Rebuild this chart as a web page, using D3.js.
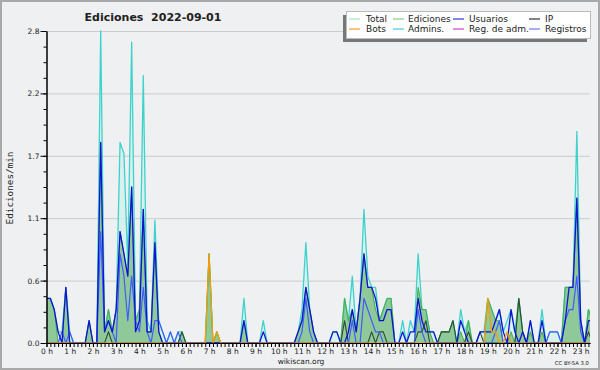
<!DOCTYPE html>
<html><head><meta charset="utf-8">
<script src="https://cdn.jsdelivr.net/npm/d3@7"></script>
<style>
body{margin:0;background:#eef0f1}
svg{display:block}
text{font-family:"DejaVu Sans",sans-serif;fill:#222}
</style>
</head><body>
<svg id="c" width="600" height="370"></svg>
<script>
// 10-minute bins from 0 h, edits per minute
const total = [
 .4,.4,.3,.1,.1,.5,  .1,0,0,0,0,.2,  0,0,2.8,.1,.3,.1,  .3,1.8,1.7,.7,2.7,.2,
 .3,2.4,.2,.1,1.1,.2,  .1,0,.1,0,.1,.1,  0,0,0,0,0,0,  .8,0,.1,0,0,0,
 0,0,0,.4,0,0,  0,0,.2,0,0,0,  0,0,0,0,0,.1,  .3,.9,.3,.1,0,0,
 0,0,.1,.1,0,.4,  .2,.6,.1,.4,1.2,.6,  .5,.5,.2,.3,.4,.4,  0,0,.2,0,.2,.1,
 .8,.3,.3,.1,.1,0,  .1,.1,.1,.2,0,.3,  .1,.2,0,0,.1,.1,  .4,.3,.2,.3,.1,.2,
 .3,.1,.4,.1,0,.2,  0,0,.3,0,.1,.1,  .1,0,.5,.5,.5,1.9,  .2,0,.3,.2
];
const edits = [
 .4,.4,.3,0,0,.5,  0,0,0,0,0,.2,  0,0,1.8,.1,.3,.1,  .3,1.0,.8,.6,1.4,.2,
 .3,1.2,.1,.1,.9,.1,  0,0,0,0,0,.1,  0,0,0,0,0,0,  .8,0,.1,0,0,0,
 0,0,0,.2,0,0,  0,0,0,0,0,0,  0,0,0,0,0,.1,  .2,.5,.3,.1,0,0,
 0,0,0,0,0,.4,  .2,.3,.1,.4,.8,.5,  .5,.3,.2,.3,.4,.4,  0,0,0,0,0,0,
 .5,.3,.3,.1,0,0,  .1,.1,.1,.2,0,.1,  0,.2,0,0,0,0,  .4,.3,.2,.2,0,0,
 .1,0,.4,.1,0,.1,  0,0,.1,0,0,0,  0,0,.5,.5,.5,1.3,  .2,0,.3,.2
];
const users = [
 .4,.4,.3,.1,0,.5,  0,0,0,0,0,.2,  0,0,1.8,.1,.2,.1,  .3,1.0,.8,.6,1.4,.1,
 .2,1.2,.1,.1,.9,.1,  0,0,0,0,0,0,  0,0,0,0,0,0,  0,0,0,0,0,0,
 0,0,0,.2,0,0,  0,0,.1,0,0,0,  0,0,0,0,0,.1,  .2,.5,.3,.1,0,0,
 0,0,.1,.1,0,0,  .1,.3,.1,.4,.8,.5,  .5,.4,.2,.2,.3,.3,  0,0,.1,0,.1,.1,
 .4,.2,.1,.1,.1,0,  0,0,0,0,0,.2,  .1,0,0,0,.1,.1,  .1,.1,.2,.3,.1,0,
 .3,.1,0,.1,0,.2,  0,0,.2,0,0,0,  0,0,.2,.5,.5,1.3,  .2,0,.2,.2
];
const logs = [
 0,0,0,0,.1,0,  .1,0,0,0,0,0,  0,0,1.0,.1,.2,.1,  0,.8,.6,.2,.6,.2,
 .1,.5,.1,0,.2,.2,  .1,0,.1,0,.1,0,  0,0,0,0,0,0,  0,0,0,0,0,0,
 0,0,0,0,0,0,  0,0,0,0,0,0,  0,0,0,0,0,0,  .1,.4,.1,0,0,0,
 0,0,0,0,0,0,  0,.2,0,0,.4,.3,  .2,.1,.1,0,0,0,  0,0,0,0,0,0,
 .3,.1,0,0,0,0,  0,0,0,0,0,0,  0,0,0,0,0,0,  0,0,.1,.2,0,0,
 0,0,0,0,0,0,  0,0,0,0,.1,.1,  .1,0,.2,.3,.3,.6,  .1,0,0,0
];
const ip = [
 0,0,0,0,0,0,  0,0,0,0,0,0,  0,0,0,0,.1,0,  0,0,0,0,0,0,
 0,0,0,0,0,0,  0,0,0,0,0,.1,  0,0,0,0,0,0,  0,0,0,0,0,0,
 0,0,0,0,0,0,  0,0,0,0,0,0,  0,0,0,0,0,0,  0,0,0,0,0,0,
 0,0,0,0,0,.2,  0,0,0,0,0,0,  .1,0,.1,.1,0,0,  0,0,0,0,0,0,
 .1,.1,.2,0,0,0,  .1,.1,.1,.2,0,0,  0,.1,0,0,.1,0,  0,0,0,0,0,0,
 0,0,.4,.1,0,0,  0,0,0,0,0,0,  0,0,0,0,0,0,  0,0,.1,0
];
const bots = [
 0,0,0,0,0,0,  0,0,0,0,0,0,  0,0,0,0,0,0,  0,0,0,0,0,0,
 0,0,0,0,0,0,  0,0,0,0,0,0,  0,0,0,0,0,0,  .8,0,.1,0,0,0,
 0,0,0,0,0,0,  0,0,0,0,0,0,  0,0,0,0,0,0,  0,0,0,0,0,0,
 0,0,0,0,0,0,  0,0,0,0,0,0,  0,0,0,0,0,0,  0,0,0,0,0,0,
 0,0,0,0,0,0,  0,0,0,0,0,0,  0,0,0,0,0,0,  .4,.1,.1,0,0,.1,
 0,0,0,0,0,0,  0,0,0,0,0,0,  0,0,0,0,0,0,  0,0,0,0
];
const hourTicks = d3.range(24);
const yTicks = [0, 0.56, 1.12, 1.68, 2.24, 2.8];
const yTickLabels = ["0.0", "0.6", "1.1", "1.7", "2.2", "2.8"];
const legendLabels = ["Total", "Ediciones", "Usuarios", "IP", "Bots", "Admins.", "Reg. de adm.", "Registros"];
const legendColors = ["#aadddd", "#88cc88", "#3333dd", "#333333", "#ff9933", "#44ccdd", "#cc44cc", "#7777ee"];

const svg = d3.select("#c");
svg.append("rect").attr("x", 1).attr("y", 1).attr("width", 598).attr("height", 368)
  .attr("fill", "#eef0f1").attr("stroke", "#a9a9a9").attr("stroke-width", 2);

const L = 46.5, R = 590, T = 31, B = 343;
const x = d3.scaleLinear().domain([0, 23.4]).range([L, R]);
const y = d3.scaleLinear().domain([0, 2.8]).range([B, T]);
const px = (d, i) => x(i / 6);

svg.append("clipPath").attr("id", "clip").append("rect")
  .attr("x", L).attr("y", T - 5).attr("width", R - L).attr("height", B - T + 5);

// grid
svg.append("g").selectAll("line").data(yTicks.slice(1)).join("line")
  .attr("x1", L).attr("x2", R).attr("y1", d => y(d) + 0.5).attr("y2", d => y(d) + 0.5)
  .attr("stroke", "#cccccc").attr("stroke-width", 1);

const area = d3.area().x(px).y0(y(0)).y1(d => y(d));
const line = d3.line().x(px).y(d => y(d));
const plot = svg.append("g").attr("clip-path", "url(#clip)");

plot.append("path").datum(total).attr("d", area).attr("fill", "#d6f0ee").attr("opacity", 0.85);
plot.append("path").datum(edits).attr("d", area).attr("fill", "#7fbf86").attr("opacity", 0.82);

const series = [
  [total, "#3ed2cc", 1.3],
  [edits, "#4cb04c", 1.1],
  [ip, "#2f4a35", 1.1],
  [logs, "#3f5cff", 1.2],
  [users, "#1212d6", 1.3],
  [bots, "#ff9a00", 1.2]
];
series.forEach(([d, c, w]) => {
  plot.append("path").datum(d).attr("d", line).attr("fill", "none")
    .attr("stroke", c).attr("stroke-width", w).attr("stroke-linejoin", "round");
});

// y axis
svg.append("g").attr("transform", `translate(${L},0)`)
  .call(d3.axisLeft(y).tickValues(yTicks).tickFormat((d, i) => yTickLabels[i]).tickSize(6).tickSizeOuter(0).tickPadding(1));
svg.append("g").attr("transform", `translate(${L},0)`)
  .call(d3.axisLeft(y).tickValues(d3.range(0, 2.8001, 0.14)).tickFormat("").tickSize(3).tickSizeOuter(0));
// x axis
svg.append("g").attr("transform", `translate(0,${B})`)
  .call(d3.axisBottom(x).tickValues(d3.range(0, 141).map(i => i / 6)).tickFormat("").tickSize(4).tickSizeOuter(0));
svg.append("g").attr("transform", `translate(0,${B})`)
  .call(d3.axisBottom(x).tickValues(hourTicks).tickFormat(h => `${h} h`).tickSize(4).tickSizeOuter(0).tickPadding(2));
svg.selectAll(".tick text").attr("font-size", "7.5px").attr("font-family", "DejaVu Sans").attr("fill", "#222");
svg.selectAll(".domain, .tick line").attr("stroke", "#000");

// y label
svg.append("text").attr("transform", "translate(13,188) rotate(-90)").attr("text-anchor", "middle")
  .style("font-family", "DejaVu Sans Mono").attr("font-size", "9.3px").text("Ediciones/min");

// title
svg.append("text").attr("x", 153).attr("y", 21).attr("text-anchor", "middle")
  .attr("font-size", "11px").attr("font-weight", "bold").style("white-space", "pre")
  .text("Ediciones  2022-09-01");

// footer
svg.append("text").attr("x", 301).attr("y", 364).attr("text-anchor", "middle").attr("font-size", "7.5px").text("wikiscan.org");
svg.append("text").attr("x", 589).attr("y", 365).attr("text-anchor", "end").attr("font-size", "5.3px").text("CC BY-SA 3.0");

// legend
svg.append("rect").attr("x", 343).attr("y", 15).attr("width", 244).attr("height", 27).attr("fill", "#777");
svg.append("rect").attr("x", 346.5).attr("y", 11.5).attr("width", 244).attr("height", 27).attr("fill", "#fff").attr("stroke", "#bbb");
const swX = [349, 393, 453, 529], txX = [366, 408, 469, 545], rowY = [19, 29];
const lg = svg.append("g").selectAll("g").data(legendLabels).join("g")
  .attr("transform", (d, i) => `translate(0,${rowY[Math.floor(i / 4)]})`);
lg.append("line").attr("x1", (d, i) => swX[i % 4]).attr("x2", (d, i) => swX[i % 4] + 11)
  .attr("stroke", (d, i) => legendColors[i]).attr("stroke-width", 1.2);
lg.append("text").attr("x", (d, i) => txX[i % 4]).attr("dy", "0.35em").attr("font-size", "9px").attr("fill", "#333").text(d => d);
</script>
</body></html>
